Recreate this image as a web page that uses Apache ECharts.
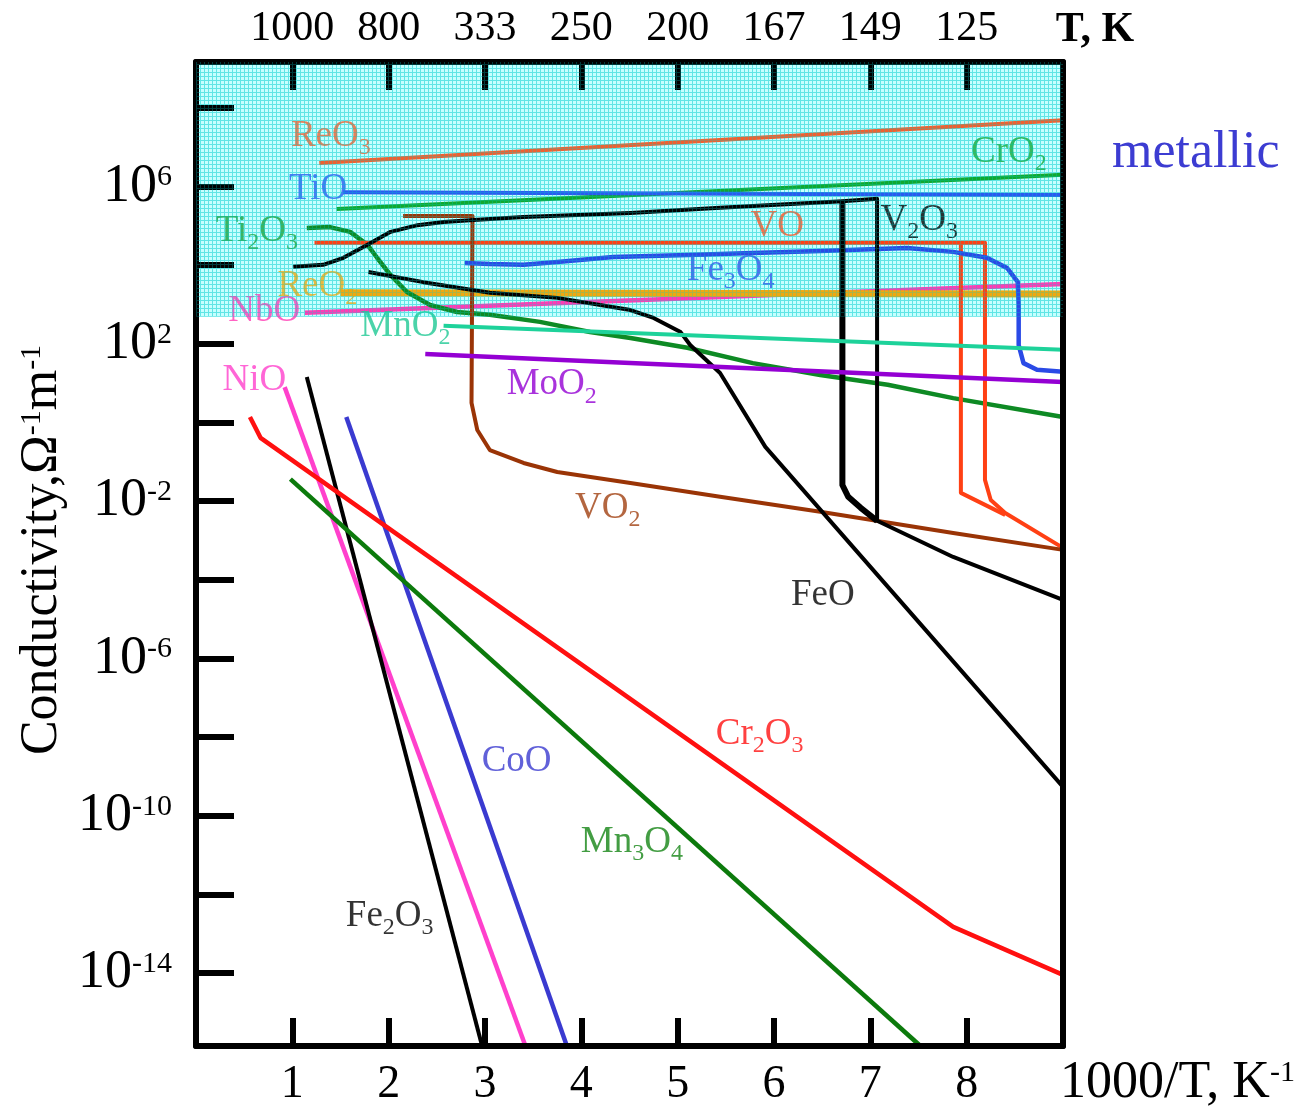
<!DOCTYPE html>
<html><head><meta charset="utf-8">
<script src="https://cdn.jsdelivr.net/npm/echarts@6/dist/echarts.min.js"></script>
<style>html,body{margin:0;padding:0;background:#fff}#c{width:1314px;height:1111px}</style>
</head><body><div id="c"></div>
<script>
// ---- axes / ticks ----
const xTicks = [1,2,3,4,5,6,7,8];
const topTickLabels = ['1000','800','333','250','200','167','149','125'];
const yTicks = [-14,-12,-10,-8,-6,-4,-2,0,2,4,6,8];
const yLabelTicks = [-14,-10,-6,-2,2,6];
const metallicFrom = 2.69;   // log10 conductivity where metallic region starts

// ---- curves: [1000/T, log10(sigma)] ----
const ReO3  = [[1.28,6.60],[9.0,7.69]];
const CrO2  = [[1.46,5.43],[9.0,6.30]];
const TiO   = [[1.53,5.86],[9.0,5.79]];
const ReO2  = [[1.50,3.30],[9.0,3.27]];
const NbO   = [[1.13,2.79],[9.0,3.52]];
const Ti2O3 = [[1.15,4.95],[1.39,4.97],[1.60,4.85],[1.78,4.52],[1.88,4.19],[2.02,3.75],[2.19,3.32],[2.43,2.99],[2.71,2.81],[3.05,2.74],[3.57,2.56],[4.09,2.30],[4.51,2.15],[5.10,1.90],[5.78,1.51],[6.48,1.21],[7.18,0.96],[7.86,0.62],[9.0,0.14]];
const V2O3  = [[1.01,3.96],[1.32,4.01],[1.53,4.19],[1.78,4.52],[2.02,4.85],[2.30,5.02],[2.57,5.10],[2.88,5.15],[3.40,5.23],[4.51,5.33],[5.44,5.46],[6.71,5.63],[7.07,5.69],[7.07,-2.50],[7.86,-3.42],[9.0,-4.51]];
const V2O3b = [[6.71,5.63],[6.71,-1.59],[6.77,-1.89],[6.90,-2.17],[7.07,-2.50]];
const VO    = [[1.23,4.57],[8.19,4.57],[8.19,-1.46],[8.25,-1.97],[8.40,-2.30],[9.0,-3.19]];
const VOb   = [[7.94,4.57],[7.94,-1.79],[8.40,-2.35]];
const VO2   = [[2.15,5.25],[2.87,5.25],[2.86,0.50],[2.92,-0.19],[3.05,-0.70],[3.40,-1.03],[3.75,-1.26],[4.51,-1.54],[5.44,-1.89],[6.48,-2.27],[7.86,-2.81],[9.0,-3.24]];
const Fe3O4 = [[2.79,4.06],[3.05,4.03],[3.40,4.01],[3.75,4.08],[4.33,4.21],[5.10,4.26],[5.78,4.31],[6.48,4.36],[7.38,4.44],[7.86,4.34],[8.21,4.19],[8.42,3.93],[8.53,3.58],[8.54,2.99],[8.54,1.97],[8.59,1.51],[8.73,1.34],[9.0,1.29]];
const FeO   = [[1.79,3.83],[2.36,3.57],[3.05,3.30],[3.75,3.17],[4.51,2.86],[4.75,2.66],[5.03,2.30],[5.13,1.97],[5.44,1.26],[5.91,-0.62],[9.0,-9.27]];
const MnO2  = [[2.57,2.46],[9.0,1.85]];
const MoO2  = [[2.38,1.74],[9.0,1.03]];
const NiO   = [[0.92,0.90],[3.42,-15.86]];
const Fe2O3 = [[1.15,1.16],[2.97,-15.86]];
const CoO   = [[1.56,0.14],[3.85,-15.86]];
const Mn3O4 = [[0.98,-1.44],[7.52,-15.86]];
const Cr2O3 = [[0.56,0.14],[0.67,-0.39],[7.86,-12.83],[9.0,-14.05]];

// ---- curve labels (name, anchor in data coords) ----
const labelNames = ['ReO_3','TiO','Ti_2O_3','ReO_2','NbO','MnO_2','CrO_2','VO','V_2O_3','Fe_3O_4','NiO','MoO_2','VO_2','FeO','Cr_2O_3','CoO','Mn_3O_4','Fe_2O_3'];
const labelAnchors = [[0.98,7.29],[0.96,5.94],[0.20,4.87],[0.84,3.47],[0.33,2.84],[1.70,2.46],[8.04,6.88],[5.75,5.00],[7.10,5.15],[5.09,3.88],[0.27,1.08],[3.22,0.96],[3.93,-2.17],[6.17,-4.39],[5.39,-7.92],[2.96,-8.63],[3.99,-10.67],[1.55,-12.55]];

// ---- styles ----
const SERIF = '"Liberation Serif","Times New Roman",serif';
const labelColors = ['#f06030','#2a5af0','#1ca038','#f0a810','#ff3cb4','#1ec894','#14a834','#ff5020','#000','#3050e8','#ff40cc','#9400d3','#a04010','#000','#ff1010','#3a3ad0','#148414','#000'];
const curves = [
  {d:ReO3, c:'#f06030', w:4},
  {d:CrO2, c:'#10a830', w:4},
  {d:TiO, c:'#2a5af0', w:4},
  {d:NbO, c:'#ff3cb4', w:4.5},
  {d:ReO2, c:'#f0a810', w:7},
  {d:Ti2O3, c:'#0e8a24', w:4.5},
  {d:VO, c:'#ff4014', w:4},
  {d:VOb, c:'#ff4014', w:4},
  {d:VO2, c:'#9a3406', w:4},
  {d:Fe3O4, c:'#2a4ae6', w:4.5},
  {d:V2O3, c:'#000', w:4},
  {d:V2O3b, c:'#000', w:6},
  {d:FeO, c:'#000', w:4},
  {d:MnO2, c:'#1ed29a', w:4},
  {d:MoO2, c:'#9400d3', w:4.5},
  {d:NiO, c:'#ff40cc', w:4.5},
  {d:Fe2O3, c:'#000', w:4},
  {d:CoO, c:'#3a3ad0', w:4.5},
  {d:Mn3O4, c:'#0c7a0c', w:4.5},
  {d:Cr2O3, c:'#ff1010', w:4.5}
];

function makePattern(cell, grid){
  const cv = document.createElement('canvas'); cv.width = 4; cv.height = 4;
  const g = cv.getContext('2d');
  if (cell) { g.fillStyle = cell; g.fillRect(0,0,4,4); }
  g.fillStyle = grid; g.fillRect(0,0,4,1); g.fillRect(0,1,1,3);
  return cv;
}
const MESH_UNDER = makePattern('#c6ffff', '#86eeee');
const MESH_OVER  = makePattern(null, 'rgba(0,210,210,0.28)');
function chem(s){ return s.replace(/_(\d)/g, '{s|$1}'); }

const YMIN = -15.86, YMAX = 9.17;
const axisLine = {show:true, onZero:false, lineStyle:{color:'#000', width:6}};

const series = [];
// metallic region, light cyan mesh under the curves
series.push({
  type:'line', data:[[0,metallicFrom]], symbol:'none', lineStyle:{opacity:0}, z:1, silent:true,
  markArea:{silent:true, z:1, itemStyle:{color:{image:MESH_UNDER, repeat:'repeat'}},
    data:[[{xAxis:0, yAxis:metallicFrom},{xAxis:9, yAxis:YMAX}]]}
});
curves.forEach(k => series.push({
  type:'line', data:k.d, showSymbol:false, symbol:'none', silent:true, z:2,
  lineStyle:{color:k.c, width:k.w, cap:'butt', join:'round'}
}));
series.push({
  type:'scatter', z:3, silent:true, symbolSize:1, itemStyle:{color:'transparent'},
  data: labelAnchors.map((p,i)=>({value:p, label:{color:labelColors[i]}})),
  label:{show:true, position:'right', distance:0, fontFamily:SERIF, fontSize:37,
    formatter: p => chem(labelNames[p.dataIndex]),
    rich:{s:{fontSize:24, fontFamily:SERIF, padding:[24,0,0,0]}}}
});
// mesh lines over everything in the metallic region
series.push({
  type:'line', data:[[0,metallicFrom]], symbol:'none', lineStyle:{opacity:0}, z:10, silent:true,
  markArea:{silent:true, z:10, itemStyle:{color:{image:MESH_OVER, repeat:'repeat'}},
    data:[[{xAxis:0, yAxis:metallicFrom},{xAxis:9, yAxis:YMAX}]]}
});

const chart = echarts.init(document.getElementById('c'));
chart.setOption({
  animation:false,
  backgroundColor:'#fff',
  grid:{left:196, right:251, top:62, bottom:65, containLabel:false},
  xAxis:[
    {type:'value', position:'bottom', min:0, max:9, z:5, axisLine,
     splitLine:{show:false},
     axisTick:{show:true, inside:true, length:28, customValues:xTicks, lineStyle:{color:'#000', width:6}},
     axisLabel:{show:true, customValues:xTicks, margin:16, color:'#000', fontFamily:SERIF, fontSize:46}},
    {type:'value', position:'top', min:0, max:9, z:5, axisLine,
     splitLine:{show:false},
     axisTick:{show:true, inside:true, length:28, customValues:xTicks, lineStyle:{color:'#000', width:6}},
     axisLabel:{show:true, customValues:xTicks, margin:12, color:'#000', fontFamily:SERIF, fontSize:42,
       formatter: v => topTickLabels[Math.round(v)-1] || ''}}
  ],
  yAxis:[
    {type:'value', position:'left', min:YMIN, max:YMAX, z:5, axisLine,
     splitLine:{show:false},
     axisTick:{show:true, inside:true, length:38, customValues:yTicks, lineStyle:{color:'#000', width:6}},
     axisLabel:{show:true, customValues:yLabelTicks, margin:24, color:'#000', fontFamily:SERIF,
       formatter: v => '{b|10}{s|' + Math.round(v) + '}',
       rich:{b:{fontSize:54, fontFamily:SERIF, color:'#000'}, s:{fontSize:30, fontFamily:SERIF, color:'#000', padding:[0,0,18,0]}}}},
    {type:'value', position:'right', min:YMIN, max:YMAX, z:5, axisLine,
     splitLine:{show:false}, axisTick:{show:false}, axisLabel:{show:false}}
  ],
  graphic:[
    {type:'text', x:1095, y:30, silent:true, style:{text:'T, K', fontFamily:SERIF, fontWeight:'bold', fontSize:42, fill:'#000', align:'center', verticalAlign:'middle'}},
    {type:'text', x:1112, y:153, silent:true, style:{text:'metallic', fontFamily:SERIF, fontSize:52, fill:'#3c3cd2', align:'left', verticalAlign:'middle'}},
    {type:'text', x:1060, y:1083, silent:true, style:{text:'1000/T, K{s|-1}', fontFamily:SERIF, fontSize:52, fill:'#000', align:'left', verticalAlign:'middle',
      rich:{s:{fontSize:30, fontFamily:SERIF, fill:'#000', padding:[0,0,20,0]}}}},
    {type:'text', x:42, y:550, rotation:Math.PI/2, silent:true, style:{text:'Conductivity,Ω{s|-1}m{s|-1}', fontFamily:SERIF, fontSize:52, fill:'#000', align:'center', verticalAlign:'middle',
      rich:{s:{fontSize:30, fontFamily:SERIF, fill:'#000', padding:[0,0,20,0]}}}}
  ],
  series
});
</script></body></html>
